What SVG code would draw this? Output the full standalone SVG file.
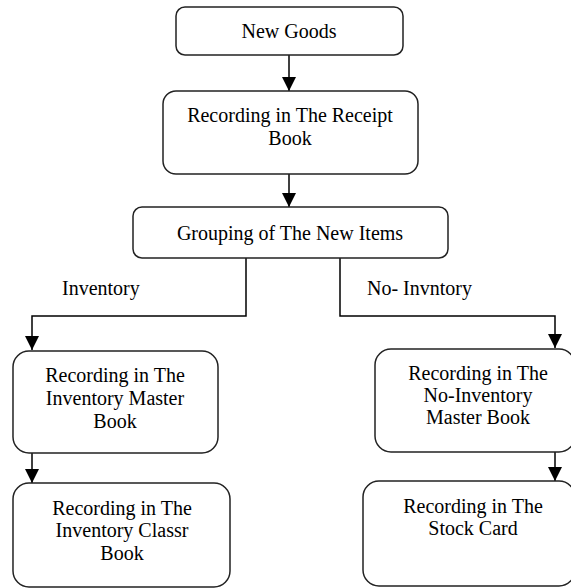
<svg xmlns="http://www.w3.org/2000/svg" width="571" height="588" viewBox="0 0 571 588">
  <style>
    .box { fill: #ffffff; stroke: #222222; stroke-width: 1.5; }
    .t { font-family: "Liberation Serif", "Times New Roman", serif; font-size: 20px; fill: #000000; text-anchor: middle; }
    .lbl { font-family: "Liberation Serif", "Times New Roman", serif; font-size: 20px; fill: #000000; }
    .wire { fill: none; stroke: #000000; stroke-width: 1.5; }
  </style>
  <defs>
    <marker id="arrow" markerUnits="userSpaceOnUse" markerWidth="14" markerHeight="14" viewBox="0 0 14 14" refX="7" refY="14" orient="auto-start-reverse">
      <path d="M0,0 L14,0 L7,14 Z" fill="#000000" transform="rotate(-90 7 7)"/>
    </marker>
    <marker id="down" markerUnits="userSpaceOnUse" markerWidth="14" markerHeight="14" viewBox="0 0 14 14" refX="7" refY="14" orient="0">
      <path d="M0,0 L14,0 L7,14 Z" fill="#000000"/>
    </marker>
  </defs>
  <rect width="571" height="588" fill="#ffffff"/>

  <!-- connectors -->
  <g id="connectors">
    <path class="wire" d="M289,55 V91" marker-end="url(#down)"/>
    <path class="wire" d="M289,174 V207" marker-end="url(#down)"/>
    <path class="wire" d="M246,258 V316 H32 V350" marker-end="url(#down)"/>
    <path class="wire" d="M340,258 V316 H555 V348" marker-end="url(#down)"/>
    <path class="wire" d="M32,453 V483" marker-end="url(#down)"/>
    <path class="wire" d="M555,452 V481" marker-end="url(#down)"/>
    <text class="lbl" x="62" y="295">Inventory</text>
    <text class="lbl" x="367" y="295">No- Invntory</text>
  </g>

  <g id="new-goods">
    <rect class="box" x="176" y="7" width="227" height="48" rx="9"/>
    <text class="t" x="289" y="38">New Goods</text>
  </g>

  <g id="receipt-book">
    <rect class="box" x="163" y="91" width="255" height="83" rx="13"/>
    <text class="t" x="290" y="122">Recording in The Receipt</text>
    <text class="t" x="290" y="145">Book</text>
  </g>

  <g id="grouping">
    <rect class="box" x="133" y="207" width="315" height="51" rx="9"/>
    <text class="t" x="290" y="240">Grouping of The New Items</text>
  </g>

  <g id="inventory-master">
    <rect class="box" x="13" y="351" width="205" height="102" rx="16"/>
    <text class="t" x="115" y="382">Recording in The</text>
    <text class="t" x="115" y="405">Inventory Master</text>
    <text class="t" x="115" y="428">Book</text>
  </g>

  <g id="inventory-classr">
    <rect class="box" x="13" y="483" width="217" height="104" rx="16"/>
    <text class="t" x="122" y="515">Recording in The</text>
    <text class="t" x="122" y="537">Inventory Classr</text>
    <text class="t" x="122" y="560">Book</text>
  </g>

  <g id="no-inventory-master">
    <rect class="box" x="375" y="349" width="200" height="103" rx="16"/>
    <text class="t" x="478" y="380">Recording in The</text>
    <text class="t" x="478" y="402">No-Inventory</text>
    <text class="t" x="478" y="424">Master Book</text>
  </g>

  <g id="stock-card">
    <rect class="box" x="363" y="481" width="212" height="105" rx="16"/>
    <text class="t" x="473" y="513">Recording in The</text>
    <text class="t" x="473" y="535">Stock Card</text>
  </g>
</svg>
